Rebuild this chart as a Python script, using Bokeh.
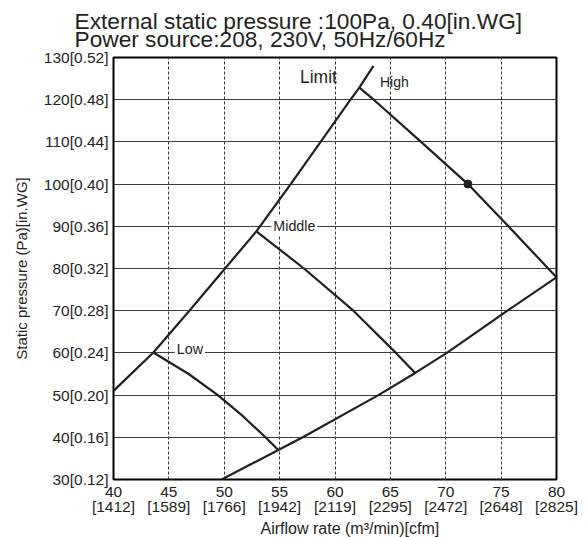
from bokeh.plotting import figure
from bokeh.models import Range1d, FixedTicker, LinearAxis, Label, Title
from bokeh.embed import file_html
from bokeh.resources import INLINE

# ---------------- data ----------------
title_lines = ["External static pressure :100Pa, 0.40[in.WG]",
               "Power source:208, 230V, 50Hz/60Hz"]
x_label = "Airflow rate (m\u00b3/min)[cfm]"
y_label = "Static pressure (Pa)[in.WG]"

x_ticks = [40, 45, 50, 55, 60, 65, 70, 75, 80]
x_cfm = ["1412", "1589", "1766", "1942", "2119", "2295", "2472", "2648", "2825"]
y_ticks = [30, 40, 50, 60, 70, 80, 90, 100, 110, 120, 130]
y_inwg = ["0.12", "0.16", "0.20", "0.24", "0.28", "0.32", "0.36", "0.40", "0.44", "0.48", "0.52"]

limit_x = [40.0, 43.6, 46.85, 50.07, 52.9, 56.0, 58.7, 61.4, 62.2, 63.47]
limit_y = [51.0, 60.1, 70.0, 80.0, 88.8, 100.0, 110.0, 120.0, 122.85, 128.0]

high_x = [62.2, 63.5, 67.77, 72.0, 75.66, 80.0]
high_y = [122.85, 120.0, 110.0, 100.0, 90.0, 77.9]

middle_x = [52.9, 57.2, 61.66, 65.5, 67.24]
middle_y = [88.8, 80.0, 70.0, 60.0, 55.25]

low_x = [43.6, 46.79, 49.42, 51.69, 53.72, 54.88]
low_y = [60.1, 55.0, 50.0, 45.0, 40.0, 37.0]

min_x = [49.77, 54.88, 57.09, 63.92, 67.24, 70.1, 75.57, 80.0]
min_y = [30.0, 37.0, 40.0, 50.0, 55.25, 60.0, 70.0, 77.9]

point_x = [72.0]
point_y = [100.0]

curve_names = ["Limit", "High", "Middle", "Low"]

# ---------------- style ----------------
FONT = "Liberation Sans"
INK = "#231f20"

p = figure(width=587, height=537,
           x_range=Range1d(40, 80), y_range=Range1d(30, 130),
           output_backend="svg", toolbar_location=None,
           min_border_left=113, min_border_right=31,
           min_border_top=57, min_border_bottom=58)
p.title.visible = False
p.background_fill_color = "white"
p.border_fill_color = "white"
p.outline_line_color = "black"
p.outline_line_width = 2

# x axis (m3/min)
xa = p.xaxis[0]
xa.ticker = FixedTicker(ticks=x_ticks)
xa.major_label_overrides = {t: str(t) for t in x_ticks}
# second x axis ([cfm])
xa2 = LinearAxis(ticker=FixedTicker(ticks=x_ticks),
                 major_label_overrides={t: "[" + c + "]" for t, c in zip(x_ticks, x_cfm)})
p.add_layout(xa2, "below")

ya = p.yaxis[0]
ya.ticker = FixedTicker(ticks=y_ticks)
ya.major_label_overrides = {t: f"{t}[{w}]" for t, w in zip(y_ticks, y_inwg)}
ya.axis_label = y_label

for ax in (xa, xa2, ya):
    ax.axis_line_color = None
    ax.major_tick_line_color = None
    ax.minor_tick_line_color = None
    ax.major_tick_out = 0
    ax.major_tick_in = 0
    ax.minor_tick_out = 0
    ax.minor_tick_in = 0
    ax.major_label_text_font = FONT
    ax.major_label_text_font_size = "15.5px"
    ax.major_label_text_color = INK
    ax.axis_label_text_font = FONT
    ax.axis_label_text_font_size = "15px"
    ax.axis_label_text_font_style = "normal"
    ax.axis_label_text_color = INK

xa.major_label_standoff = 7
xa2.major_label_standoff = -2
ya.major_label_standoff = 5
ya.axis_label_standoff = 11

# x axis label as a bottom title (shifted right like the reference)
p.add_layout(Title(text=x_label, align="left", offset=147, standoff=0,
                   text_font=FONT, text_font_size="16px",
                   text_font_style="normal", text_color=INK), "below")

# chart title (two lines)
p.add_layout(Title(text="\n".join(title_lines), align="left", offset=-39,
                   standoff=10, text_line_height=0.72,
                   text_font=FONT, text_font_size="22.7px",
                   text_font_style="normal", text_color=INK), "above")

p.ygrid.grid_line_color = "#3c3c3c"
p.ygrid.grid_line_width = 1.2
p.xgrid.grid_line_color = "#333333"
p.xgrid.grid_line_width = 1
p.xgrid.grid_line_dash = "3 2"

for xs, ys in ((limit_x, limit_y), (high_x, high_y), (middle_x, middle_y),
               (low_x, low_y), (min_x, min_y)):
    p.line(xs, ys, line_color=INK, line_width=2.2)

p.scatter(point_x, point_y, size=8, color=INK)

# curve labels
p.add_layout(Label(x=56.84, y=125.4, text=curve_names[0], text_font=FONT,
                   text_font_size="17.5px", text_color=INK,
                   text_align="left", text_baseline="middle"))
p.add_layout(Label(x=64.06, y=124.3, text=curve_names[1], text_font=FONT,
                   text_font_size="14px", text_color=INK,
                   text_align="left", text_baseline="middle"))
p.add_layout(Label(x=54.25, y=90.0, text=curve_names[2], text_font=FONT,
                   text_font_size="14.3px", text_color=INK,
                   text_align="left", text_baseline="middle",
                   background_fill_color="white", padding=2))
p.add_layout(Label(x=45.53, y=60.93, text=curve_names[3], text_font=FONT,
                   text_font_size="14.3px", text_color=INK,
                   text_align="left", text_baseline="middle",
                   background_fill_color="white", padding=2))

open("out.html", "w").write(file_html(p, INLINE))
